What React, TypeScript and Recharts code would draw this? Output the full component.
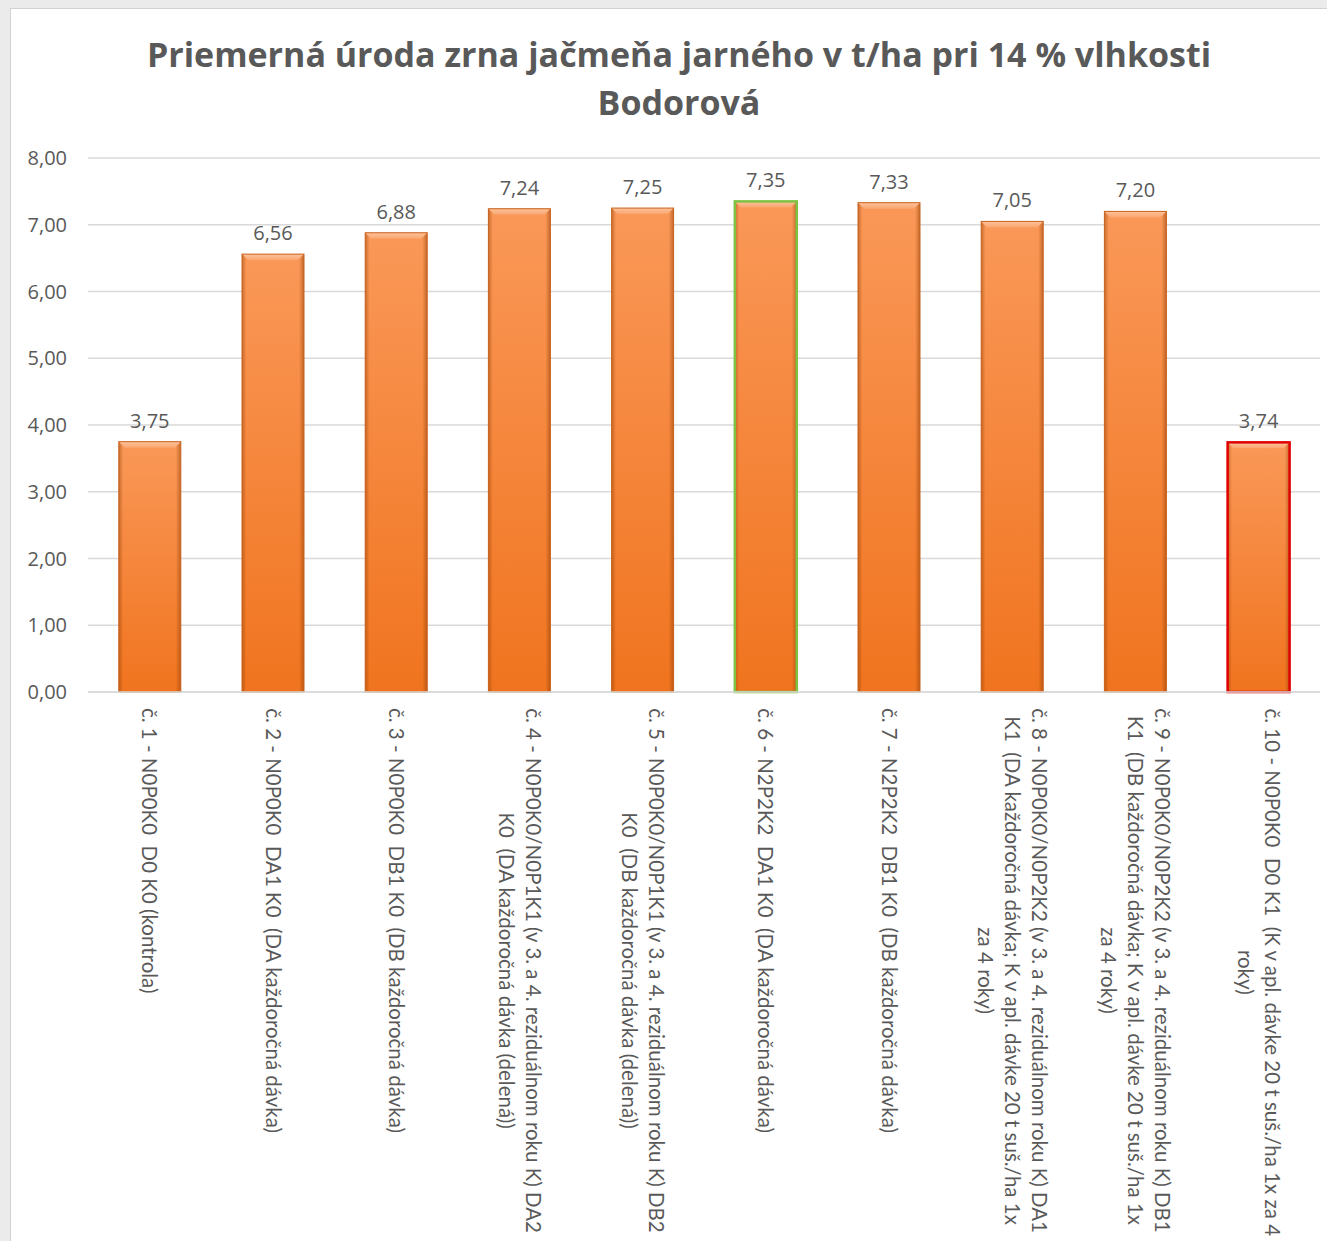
import { BarChart, Bar, XAxis, YAxis, CartesianGrid, LabelList } from "recharts";

// wrapped x-axis labels, as they break in the original chart
const labelLines: string[][] = [
  ["č. 1 - N0P0K0  D0 K0 (kontrola)"],
  ["č. 2 - N0P0K0  DA1 K0  (DA každoročná dávka)"],
  ["č. 3 - N0P0K0  DB1 K0  (DB každoročná dávka)"],
  ["č. 4 - N0P0K0/N0P1K1 (v 3. a 4. reziduálnom roku K) DA2", "K0  (DA každoročná dávka (delená))"],
  ["č. 5 - N0P0K0/N0P1K1 (v 3. a 4. reziduálnom roku K) DB2", "K0  (DB každoročná dávka (delená))"],
  ["č. 6 - N2P2K2  DA1 K0  (DA každoročná dávka)"],
  ["č. 7 - N2P2K2  DB1 K0  (DB každoročná dávka)"],
  [
    "č. 8 - N0P0K0/N0P2K2 (v 3. a 4. reziduálnom roku K) DA1",
    "K1  (DA každoročná dávka; K v apl. dávke 20 t suš./ha 1x",
    "za 4 roky)",
  ],
  [
    "č. 9 - N0P0K0/N0P2K2 (v 3. a 4. reziduálnom roku K) DB1",
    "K1  (DB každoročná dávka; K v apl. dávke 20 t suš./ha 1x",
    "za 4 roky)",
  ],
  ["č. 10 - N0P0K0  D0 K1  (K v apl. dávke 20 t suš./ha 1x za 4", "roky)"],
];

const categories = labelLines.map((l) => l.join(" "));
const yields = [3.75, 6.56, 6.88, 7.24, 7.25, 7.35, 7.33, 7.05, 7.2, 3.74];
const yTicks = [0, 1, 2, 3, 4, 5, 6, 7, 8];

const titleLines = ["Priemerná úroda zrna jačmeňa jarného v t/ha pri 14 % vlhkosti", "Bodorová"];

const data = categories.map((name, i) => ({ name, value: yields[i] }));

const TEXT = "#595959";
const X_FONT_SIZE = 20.5;
const X_FONT = "Lato";
const LINE_H = 27;

// bars with a coloured outline (best variant / last variant)
const OUTLINE: Record<number, string> = { 5: "#7DC242", 9: "#E00000" };

const fmt = (v: number) => v.toFixed(2).replace(".", ",");

let ctx: CanvasRenderingContext2D | null = null;
function measure(s: string) {
  if (!ctx) ctx = document.createElement("canvas").getContext("2d");
  if (!ctx) return s.length * X_FONT_SIZE * 0.5;
  ctx.font = `${X_FONT_SIZE}px ${X_FONT}`;
  return ctx.measureText(s).width;
}

function CategoryTick(props: any) {
  const { x, y, payload } = props;
  const idx = categories.indexOf(payload.value);
  const lines = labelLines[idx] ?? [payload.value];
  const n = lines.length;
  const w = Math.max(...lines.map(measure));
  return (
    <g transform={`translate(${x},${y}) rotate(90)`}>
      {lines.map((ln, i) => (
        <text
          key={i}
          x={8 + w / 2}
          y={(i - (n - 1) / 2) * LINE_H}
          dy="0.35em"
          textAnchor="middle"
          fill={TEXT}
          fontSize={X_FONT_SIZE}
          fontFamily={X_FONT}
          style={{ whiteSpace: "pre" }}
        >
          {ln}
        </text>
      ))}
    </g>
  );
}

function BevelBar(props: any) {
  const { x, y, width, height, index } = props;
  if (!height || height <= 0) return null;
  const b = Math.min(6, height / 2);
  const outline = OUTLINE[index];
  return (
    <g>
      <rect x={x} y={y} width={width} height={height} fill="url(#barBody)" />
      <rect x={x} y={y} width={width} height={height} fill="url(#barSides)" />
      <polygon
        points={`${x},${y} ${x + width},${y} ${x + width - b},${y + b} ${x + b},${y + b}`}
        fill="url(#barTop)"
      />
      <rect
        x={x}
        y={y}
        width={width}
        height={height}
        fill="none"
        stroke={outline ?? "#C9621E"}
        strokeWidth={outline ? 2.5 : 1}
      />
    </g>
  );
}

export default function App() {
  return (
    <div
      style={{
        position: "absolute",
        left: 0,
        top: 0,
        width: 1327,
        height: 1241,
        background: "#EBEBEB",
        overflow: "hidden",
      }}
    >
      <div
        style={{
          position: "absolute",
          left: 10,
          top: 8,
          right: 0,
          bottom: 0,
          background: "#fff",
          borderLeft: "1px solid #D2D2D2",
          borderTop: "1px solid #D2D2D2",
        }}
      />
      <svg width={1327} height={140} style={{ position: "absolute", left: 0, top: 0 }}>
        {titleLines.map((t, i) => (
          <text
            key={i}
            x={679}
            y={67 + i * 48}
            textAnchor="middle"
            fill={TEXT}
            fontSize={34}
            fontWeight={700}
            fontFamily="Open Sans"
          >
            {t}
          </text>
        ))}
      </svg>
      <div style={{ position: "absolute", left: 0, top: 0 }}>
        <BarChart
          width={1327}
          height={1241}
          data={data}
          margin={{ top: 158, right: 7, left: 0, bottom: 0 }}
          barCategoryGap="25%"
        >
          <defs>
            <linearGradient id="barBody" x1="0" y1="0" x2="0" y2="1">
              <stop offset="0%" stopColor="#FA9858" />
              <stop offset="100%" stopColor="#F0741F" />
            </linearGradient>
            <linearGradient id="barSides" x1="0" y1="0" x2="1" y2="0">
              <stop offset="0%" stopColor="#8A3A00" stopOpacity={0.45} />
              <stop offset="7%" stopColor="#8A3A00" stopOpacity={0} />
              <stop offset="92%" stopColor="#8A3A00" stopOpacity={0} />
              <stop offset="100%" stopColor="#8A3A00" stopOpacity={0.5} />
            </linearGradient>
            <linearGradient id="barTop" x1="0" y1="0" x2="0" y2="1">
              <stop offset="0%" stopColor="#FDC39C" />
              <stop offset="100%" stopColor="#FAA56E" />
            </linearGradient>
          </defs>
          <CartesianGrid vertical={false} stroke="#D9D9D9" strokeWidth={1.5} />
          <XAxis
            dataKey="name"
            interval={0}
            height={549}
            tick={<CategoryTick />}
            tickLine={false}
            axisLine={{ stroke: "#D9D9D9", strokeWidth: 1.5 }}
          />
          <YAxis
            domain={[0, 8]}
            ticks={yTicks}
            width={88}
            tickFormatter={fmt}
            tick={{ fontSize: 20, fill: TEXT, fontFamily: "Open Sans" }}
            tickMargin={15}
            tickLine={false}
            axisLine={false}
          />
          <Bar dataKey="value" shape={<BevelBar />} isAnimationActive={false}>
            <LabelList
              dataKey="value"
              position="top"
              offset={14}
              formatter={(v: any) => fmt(Number(v))}
              style={{ fontSize: 20, fill: TEXT, fontFamily: "Open Sans" }}
            />
          </Bar>
        </BarChart>
      </div>
    </div>
  );
}
